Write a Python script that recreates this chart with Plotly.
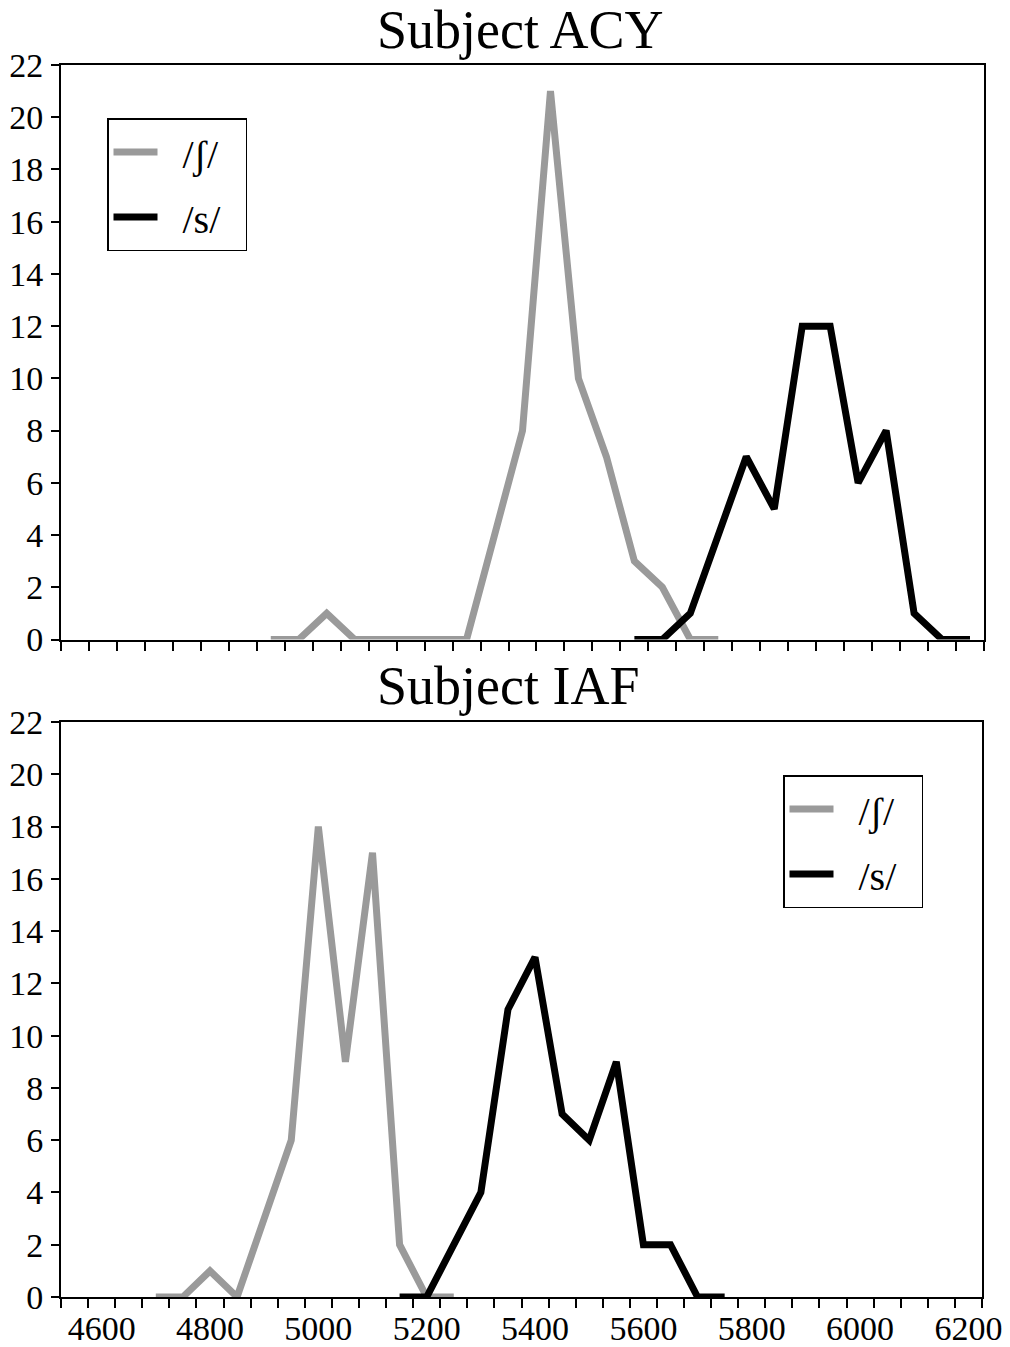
import plotly.graph_objects as go

# ---- data ----
acy_sh_freq = [4900, 4950, 5000, 5050, 5100, 5150, 5200, 5250, 5300, 5350, 5400, 5450, 5500, 5550, 5600, 5650, 5700]
acy_sh_count = [0, 0, 1, 0, 0, 0, 0, 0, 4, 8, 21, 10, 7, 3, 2, 0, 0]
acy_s_freq = [5550, 5600, 5650, 5700, 5750, 5800, 5850, 5900, 5950, 6000, 6050, 6100, 6150]
acy_s_count = [0, 0, 1, 4, 7, 5, 12, 12, 6, 8, 1, 0, 0]

iaf_sh_freq = [4700, 4750, 4800, 4850, 4900, 4950, 5000, 5050, 5100, 5150, 5200, 5250]
iaf_sh_count = [0, 0, 1, 0, 3, 6, 18, 9, 17, 2, 0, 0]
iaf_s_freq = [5150, 5200, 5250, 5300, 5350, 5400, 5450, 5500, 5550, 5600, 5650, 5700, 5750]
iaf_s_count = [0, 0, 2, 4, 11, 13, 7, 6, 9, 2, 2, 0, 0]

x_ticks = [4600, 4800, 5000, 5200, 5400, 5600, 5800, 6000, 6200]
y_ticks = [0, 2, 4, 6, 8, 10, 12, 14, 16, 18, 20, 22]
titles = ["Subject ACY", "Subject IAF"]
series_names = ["/ʃ/", "/s/"]

GRAY = "#9a9a9a"
BLACK = "#000000"
FONT = "Liberation Serif"
W, H = 1010, 1347
NB = "\u00a0"

def legend_label(s):
    return NB + NB + s + NB + NB

fig = go.Figure()

fig.add_trace(go.Scatter(x=acy_sh_freq, y=acy_sh_count, mode="lines", name=legend_label(series_names[0]),
                         line=dict(color=GRAY, width=7), xaxis="x", yaxis="y",
                         legend="legend", legendgroup="a1"))
fig.add_trace(go.Scatter(x=acy_s_freq, y=acy_s_count, mode="lines", name=legend_label(series_names[1]),
                         line=dict(color=BLACK, width=7), xaxis="x", yaxis="y",
                         legend="legend", legendgroup="a2"))
fig.add_trace(go.Scatter(x=iaf_sh_freq, y=iaf_sh_count, mode="lines", name=legend_label(series_names[0]),
                         line=dict(color=GRAY, width=7), xaxis="x2", yaxis="y2",
                         legend="legend2", legendgroup="b1"))
fig.add_trace(go.Scatter(x=iaf_s_freq, y=iaf_s_count, mode="lines", name=legend_label(series_names[1]),
                         line=dict(color=BLACK, width=7), xaxis="x2", yaxis="y2",
                         legend="legend2", legendgroup="b2"))

def px_x(p):
    return p / W

def px_y(p):
    return 1 - p / H

yaxis_common = dict(range=[0, 22], tickmode="array", tickvals=y_ticks, ticks="outside",
                    ticklen=8, tickwidth=1.5, tickcolor="black", showline=True, linecolor="black",
                    linewidth=2, mirror=True, showgrid=False, zeroline=False, automargin=False,
                    tickfont=dict(family=FONT, size=34, color="black"), ticklabelstandoff=1)

legend_common = dict(xanchor="left", yanchor="top", bordercolor="black", borderwidth=1.5,
                     bgcolor="white", font=dict(family=FONT, size=40, color="black"),
                     tracegroupgap=10, itemwidth=44)

fig.update_layout(
    template="none",
    width=W, height=H,
    margin=dict(l=0, r=0, t=0, b=0, pad=0),
    paper_bgcolor="white", plot_bgcolor="white",
    font=dict(family=FONT, color="black"),
    xaxis=dict(domain=[px_x(61), px_x(984)], range=[4525, 6175], anchor="y",
               tickmode="array", tickvals=x_ticks, showticklabels=False,
               ticks="outside", ticklen=0, tickcolor="black", automargin=False,
               minor=dict(tick0=4525, dtick=50, ticks="outside", ticklen=9, tickwidth=1.5, tickcolor="black",
                          showgrid=False),
               showline=True, linecolor="black", linewidth=2, mirror=True,
               showgrid=False, zeroline=False),
    yaxis=dict(domain=[px_y(639.5), px_y(65)], anchor="x", **yaxis_common),
    xaxis2=dict(domain=[px_x(61), px_x(982)], range=[4525, 6225], anchor="y2",
                tickmode="array", tickvals=x_ticks, ticks="outside", ticklen=0, tickcolor="black",
                automargin=False, ticklabelstandoff=0,
                minor=dict(tick0=4525, dtick=50, ticks="outside", ticklen=9, tickwidth=1.5, tickcolor="black",
                           showgrid=False),
                tickfont=dict(family=FONT, size=34, color="black"),
                showline=True, linecolor="black", linewidth=2, mirror=True,
                showgrid=False, zeroline=False),
    yaxis2=dict(domain=[px_y(1297), px_y(722)], anchor="x2", **yaxis_common),
    legend=dict(x=px_x(107), y=px_y(118), **legend_common),
    legend2=dict(x=px_x(783), y=px_y(775), **legend_common),
    annotations=[
        dict(text=titles[0], x=px_x(520), y=px_y(30), xref="paper", yref="paper",
             xanchor="center", yanchor="middle", showarrow=False,
             font=dict(family=FONT, size=54, color="black")),
        dict(text=titles[1], x=px_x(508), y=px_y(686), xref="paper", yref="paper",
             xanchor="center", yanchor="middle", showarrow=False,
             font=dict(family=FONT, size=54, color="black")),
    ],
)

fig.write_html("out.html", config={"displayModeBar": False},
               post_script="document.body.style.margin='0';")
